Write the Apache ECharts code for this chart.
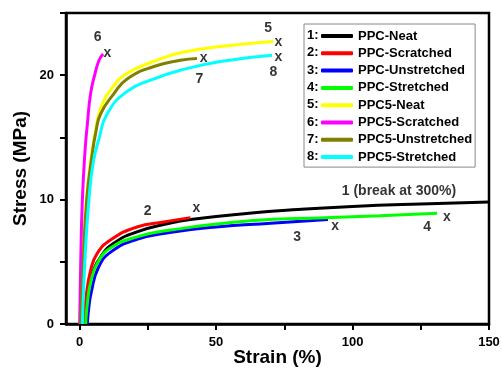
<!DOCTYPE html>
<html>
<head>
<meta charset="utf-8">
<script src="https://cdn.jsdelivr.net/npm/echarts@6/dist/echarts.min.js"></script>
<style>
  html, body { margin: 0; padding: 0; background: #fff; }
  #chart { width: 502px; height: 368px; }
</style>
</head>
<body>
<div id="chart"></div>
<script>
/* ---------- data: [strain %, stress MPa] ---------- */
const ppcNeat = [[2, 0], [2.5, 2], [3.5, 3.3], [4.6, 4.1], [7.7, 5.4], [12.5, 6.5], [21, 7.4], [33, 8.1], [40.6, 8.4], [62, 8.9], [80, 9.2], [100, 9.45], [125, 9.65], [150, 9.8]];
const ppcScratched = [[1.6, 0], [2.4, 2.2], [4, 4.3], [6.5, 5.7], [11.3, 6.75], [21, 7.8], [30.8, 8.2], [40.6, 8.55]];
const ppcUnstretched = [[2.8, 0], [3.4, 1.4], [4.3, 2.6], [6.8, 4.5], [11.5, 5.8], [21, 6.8], [33, 7.35], [50, 7.8], [70, 8.1], [91, 8.4]];
const ppcStretched = [[2.2, 0], [2.9, 1.8], [4, 3.3], [6.5, 4.9], [11.3, 6.1], [21, 7.0], [33.3, 7.55], [62.5, 8.3], [90, 8.55], [110, 8.7], [131, 8.9]];
const ppc5Neat = [[0.3, 0], [1.2, 5], [2.5, 10], [4.3, 13.5], [6, 15.8], [8, 17.5], [12, 19], [17, 20.1], [27, 21.1], [37, 21.8], [51.6, 22.3], [71, 22.7]];
const ppc5Scratched = [[0, 0], [0.4, 5], [1.0, 10], [2.0, 14], [2.8, 16], [4.0, 18.5], [5.5, 20], [7.1, 21.2], [8.6, 21.7]];
const ppc5Unstretched = [[0.3, 0], [1.3, 5], [2.6, 10], [4.5, 13.5], [6, 15.5], [7.7, 16.9], [12.5, 18.5], [17.4, 19.7], [27.2, 20.7], [36.9, 21.2], [43, 21.35]];
const ppc5Stretched = [[1, 0], [1.9, 5], [3.4, 10], [5, 13], [7.1, 14.9], [10.1, 16.9], [17.4, 18.7], [27.2, 19.7], [36.9, 20.4], [51.6, 21.1], [70.5, 21.6]];

const seriesNames = ['PPC-Neat', 'PPC-Scratched', 'PPC-Unstretched', 'PPC-Stretched', 'PPC5-Neat', 'PPC5-Scratched', 'PPC5-Unstretched', 'PPC5-Stretched'];
const seriesData = [ppcNeat, ppcScratched, ppcUnstretched, ppcStretched, ppc5Neat, ppc5Scratched, ppc5Unstretched, ppc5Stretched];
const seriesColors = ['#000000', '#ff0000', '#0000ff', '#00ff00', '#ffff00', '#ff00ff', '#808000', '#00ffff'];

/* annotation text placed in data coordinates */
const notes = [
  ['6', 6.6, 23.05], ['x', 10.2, 21.8],
  ['7', 43.9, 19.7], ['x', 45.4, 21.4],
  ['5', 69.1, 23.8], ['x', 72.8, 22.65],
  ['x', 72.8, 21.45], ['8', 71.0, 20.25],
  ['2', 24.9, 9.1], ['x', 42.8, 9.35],
  ['1 (break at 300%)', 117.0, 10.68],
  ['x', 93.6, 7.87], ['3', 79.7, 7.0],
  ['4', 127.3, 7.8], ['x', 134.6, 8.6],
];

const xTicks = [0, 25, 50, 75, 100, 125, 150];
const xLabels = [0, 50, 100, 150];

const FONT = 'Arial, "Liberation Sans", sans-serif';

const chart = echarts.init(document.getElementById('chart'));

const lineSeries = seriesNames.map((name, i) => ({
  name,
  type: 'line',
  data: seriesData[i],
  showSymbol: false,
  smooth: 0.5,
  lineStyle: { color: seriesColors[i], width: 3 },
  itemStyle: { color: seriesColors[i] },
  z: 2 + i,
}));

chart.setOption({
  animation: false,
  textStyle: { fontFamily: FONT },
  grid: {
    left: 66, right: 13, top: 13, bottom: 44,
    outerBoundsMode: 'none',
    show: true, borderColor: '#000', borderWidth: 2.5, backgroundColor: 'transparent',
  },
  legend: {
    data: seriesNames,
    orient: 'vertical',
    left: 304,
    top: 24,
    padding: [5, 3, 3, 17],
    itemGap: 3.3,
    itemWidth: 32,
    itemHeight: 4,
    icon: 'roundRect',
    borderColor: '#888',
    borderWidth: 1,
    backgroundColor: '#fff',
    textStyle: { fontFamily: FONT, fontSize: 13, fontWeight: 'bold', color: '#000', lineHeight: 14 },
    selectedMode: false,
  },
  graphic: seriesNames.map((n, i) => ({
    type: 'text',
    left: 307,
    top: 29 + i * 17.3,
    z: 100,
    style: { text: (i + 1) + ':', fontFamily: FONT, fontSize: 13, fontWeight: 'bold', fill: '#000' },
  })),
  xAxis: {
    type: 'value',
    min: -5,
    max: 150,
    name: 'Strain (%)',
    nameLocation: 'middle',
    nameGap: 24,
    nameMoveOverlap: false,
    nameTextStyle: { fontFamily: FONT, fontSize: 19, fontWeight: 'bold', color: '#000' },
    axisLine: { onZero: false, lineStyle: { color: '#000', width: 2.5 } },
    axisTick: { show: true, customValues: xTicks, length: 6, lineStyle: { color: '#000', width: 2 } },
    axisLabel: { customValues: xLabels, margin: 12, fontSize: 13, fontWeight: 'bold', color: '#000' },
    splitLine: { show: false },
  },
  yAxis: {
    type: 'value',
    min: 0,
    max: 25,
    interval: 5,
    name: 'Stress (MPa)',
    nameLocation: 'middle',
    nameGap: 36,
    nameMoveOverlap: false,
    nameTextStyle: { fontFamily: FONT, fontSize: 19, fontWeight: 'bold', color: '#000' },
    axisLine: { show: true, onZero: false, lineStyle: { color: '#000', width: 2.5 } },
    axisTick: { show: true, length: 6, lineStyle: { color: '#000', width: 2 } },
    axisLabel: {
      margin: 12, fontSize: 13, fontWeight: 'bold', color: '#000',
      formatter: (v) => (v % 10 === 0 && v < 25 ? String(v) : ''),
    },
    splitLine: { show: false },
  },
  series: [
    ...lineSeries,
    {
      name: 'notes',
      type: 'scatter',
      symbolSize: 0,
      silent: true,
      z: 20,
      data: notes.map(([t, x, y]) => ({ name: t, value: [x, y] })),
      label: {
        show: true,
        position: 'inside',
        formatter: (p) => p.name,
        fontFamily: FONT,
        fontSize: 14,
        fontWeight: 'bold',
        color: '#000',
      },
    },
  ],
});
</script>
</body>
</html>
